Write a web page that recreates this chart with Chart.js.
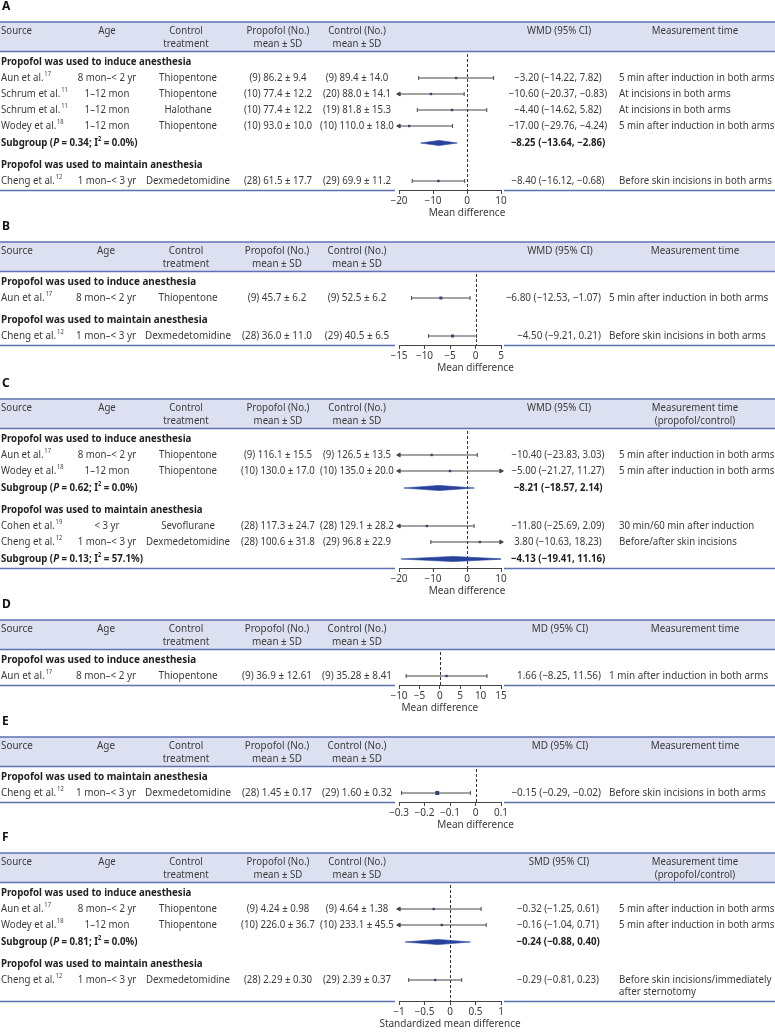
<!DOCTYPE html>
<html>
<head>
<meta charset="utf-8">
<script src="https://cdn.jsdelivr.net/npm/chart.js@4.4.1/dist/chart.umd.min.js"></script>
<style>
  html, body { margin: 0; padding: 0; background: #fff; }
  #page { position: relative; width: 775px; height: 1032px; overflow: hidden; }
  #page canvas { position: absolute; left: 0; }
</style>
</head>
<body>
<div id="page"></div>
<script>
const groupNames = ['Propofol was used to induce anesthesia', 'Propofol was used to maintain anesthesia'];

// ---- A
const aStudy = ['Aun et al.', 'Schrum et al.', 'Schrum et al.', 'Wodey et al.', 'Cheng et al.'];
const aRef = ['17', '11', '11', '18', '12'];
const aAge = ['8 mon–< 2 yr', '1–12 mon', '1–12 mon', '1–12 mon', '1 mon–< 3 yr'];
const aTx = ['Thiopentone', 'Thiopentone', 'Halothane', 'Thiopentone', 'Dexmedetomidine'];
const aProp = ['(9) 86.2 ± 9.4', '(10) 77.4 ± 12.2', '(10) 77.4 ± 12.2', '(10) 93.0 ± 10.0', '(28) 61.5 ± 17.7'];
const aCtrl = ['(9) 89.4 ± 14.0', '(20) 88.0 ± 14.1', '(19) 81.8 ± 15.3', '(10) 110.0 ± 18.0', '(29) 69.9 ± 11.2'];
const aMean = [-3.20, -10.60, -4.40, -17.00, -8.40];
const aLow = [-14.22, -20.37, -14.62, -29.76, -16.12];
const aHigh = [7.82, -0.83, 5.82, -4.24, -0.68];
const aTime = ['5 min after induction in both arms', 'At incisions in both arms', 'At incisions in both arms',
  '5 min after induction in both arms', 'Before skin incisions in both arms'];
const aGroup = [0, 0, 0, 0, 1];
const aSubP = [0.34, null], aSubI2 = [0.0, null];
const aSubMean = [-8.25, null], aSubLow = [-13.64, null], aSubHigh = [-2.86, null];
const aTicks = [-20, -10, 0, 10];

// ---- B
const bStudy = ['Aun et al.', 'Cheng et al.'];
const bRef = ['17', '12'];
const bAge = ['8 mon–< 2 yr', '1 mon–< 3 yr'];
const bTx = ['Thiopentone', 'Dexmedetomidine'];
const bProp = ['(9) 45.7 ± 6.2', '(28) 36.0 ± 11.0'];
const bCtrl = ['(9) 52.5 ± 6.2', '(29) 40.5 ± 6.5'];
const bMean = [-6.80, -4.50];
const bLow = [-12.53, -9.21];
const bHigh = [-1.07, 0.21];
const bTime = ['5 min after induction in both arms', 'Before skin incisions in both arms'];
const bGroup = [0, 1];
const bTicks = [-15, -10, -5, 0, 5];

// ---- C
const cStudy = ['Aun et al.', 'Wodey et al.', 'Cohen et al.', 'Cheng et al.'];
const cRef = ['17', '18', '19', '12'];
const cAge = ['8 mon–< 2 yr', '1–12 mon', '< 3 yr', '1 mon–< 3 yr'];
const cTx = ['Thiopentone', 'Thiopentone', 'Sevoflurane', 'Dexmedetomidine'];
const cProp = ['(9) 116.1 ± 15.5', '(10) 130.0 ± 17.0', '(28) 117.3 ± 24.7', '(28) 100.6 ± 31.8'];
const cCtrl = ['(9) 126.5 ± 13.5', '(10) 135.0 ± 20.0', '(28) 129.1 ± 28.2', '(29) 96.8 ± 22.9'];
const cMean = [-10.40, -5.00, -11.80, 3.80];
const cLow = [-23.83, -21.27, -25.69, -10.63];
const cHigh = [3.03, 11.27, 2.09, 18.23];
const cTime = ['5 min after induction in both arms', '5 min after induction in both arms',
  '30 min/60 min after induction', 'Before/after skin incisions'];
const cGroup = [0, 0, 1, 1];
const cSubP = [0.62, 0.13], cSubI2 = [0.0, 57.1];
const cSubMean = [-8.21, -4.13], cSubLow = [-18.57, -19.41], cSubHigh = [2.14, 11.16];
const cTicks = [-20, -10, 0, 10];

// ---- D
const dStudy = ['Aun et al.'];
const dRef = ['17'];
const dAge = ['8 mon–< 2 yr'];
const dTx = ['Thiopentone'];
const dProp = ['(9) 36.9 ± 12.61'];
const dCtrl = ['(9) 35.28 ± 8.41'];
const dMean = [1.66];
const dLow = [-8.25];
const dHigh = [11.56];
const dTime = ['1 min after induction in both arms'];
const dGroup = [0];
const dTicks = [-10, -5, 0, 5, 10, 15];

// ---- E
const eStudy = ['Cheng et al.'];
const eRef = ['12'];
const eAge = ['1 mon–< 3 yr'];
const eTx = ['Dexmedetomidine'];
const eProp = ['(28) 1.45 ± 0.17'];
const eCtrl = ['(29) 1.60 ± 0.32'];
const eMean = [-0.15];
const eLow = [-0.29];
const eHigh = [-0.02];
const eTime = ['Before skin incisions in both arms'];
const eGroup = [1];
const eTicks = [-0.3, -0.2, -0.1, 0, 0.1];

// ---- F
const fStudy = ['Aun et al.', 'Wodey et al.', 'Cheng et al.'];
const fRef = ['17', '18', '12'];
const fAge = ['8 mon–< 2 yr', '1–12 mon', '1 mon–< 3 yr'];
const fTx = ['Thiopentone', 'Thiopentone', 'Dexmedetomidine'];
const fProp = ['(9) 4.24 ± 0.98', '(10) 226.0 ± 36.7', '(28) 2.29 ± 0.30'];
const fCtrl = ['(9) 4.64 ± 1.38', '(10) 233.1 ± 45.5', '(29) 2.39 ± 0.37'];
const fMean = [-0.32, -0.16, -0.29];
const fLow = [-1.25, -1.04, -0.81];
const fHigh = [0.61, 0.71, 0.23];
const fTime = ['5 min after induction in both arms', '5 min after induction in both arms',
  'Before skin incisions/immediately\nafter sternotomy'];
const fGroup = [0, 0, 1];
const fSubP = [0.81, null], fSubI2 = [0.0, null];
const fSubMean = [-0.24, null], fSubLow = [-0.88, null], fSubHigh = [0.40, null];
const fTicks = [-1, -0.5, 0, 0.5, 1];

// ---- layout / style
const W = 775;
const AX_L = 399, AX_R = 501;
const INK = '#3a3a3a';
const CI_INK = '#474747';
const BLUE = '#27429a';
const BAND = '#dde0f1';
const RULE = '#5d72b2';

const wideCols = { age: 107, ageAlign: 'center', ageHead: 107, tx: 188, prop: 278, ctrl: 357,
  ci: 558, ciAlign: 'center', ciHead: 559, time: 619, timeHead: 695 };
const narrowCols = { age: 76, ageAlign: 'left', ageHead: 106, tx: 188, prop: 277, ctrl: 357,
  ci: 601, ciAlign: 'right', ciHead: 560, time: 609, timeHead: 695 };

const panels = [
  { key: 'A', top: 0, height: 220, narrow: false, effect: 'WMD (95% CI)', time2: '', axis: 'Mean difference', sq: 1.7,
    d: { study: aStudy, ref: aRef, age: aAge, tx: aTx, prop: aProp, ctrl: aCtrl, mean: aMean, low: aLow, high: aHigh,
      time: aTime, group: aGroup, subP: aSubP, subI2: aSubI2, subMean: aSubMean, subLow: aSubLow, subHigh: aSubHigh, ticks: aTicks } },
  { key: 'B', top: 220, height: 157, narrow: true, effect: 'WMD (95% CI)', time2: '', axis: 'Mean difference', sq: 2.1,
    d: { study: bStudy, ref: bRef, age: bAge, tx: bTx, prop: bProp, ctrl: bCtrl, mean: bMean, low: bLow, high: bHigh,
      time: bTime, group: bGroup, ticks: bTicks } },
  { key: 'C', top: 377, height: 221, narrow: false, effect: 'WMD (95% CI)', time2: '(propofol/control)', axis: 'Mean difference', sq: 1.7,
    d: { study: cStudy, ref: cRef, age: cAge, tx: cTx, prop: cProp, ctrl: cCtrl, mean: cMean, low: cLow, high: cHigh,
      time: cTime, group: cGroup, subP: cSubP, subI2: cSubI2, subMean: cSubMean, subLow: cSubLow, subHigh: cSubHigh, ticks: cTicks } },
  { key: 'D', top: 598, height: 117, narrow: true, effect: 'MD (95% CI)', time2: '', axis: 'Mean difference', sq: 1.7,
    d: { study: dStudy, ref: dRef, age: dAge, tx: dTx, prop: dProp, ctrl: dCtrl, mean: dMean, low: dLow, high: dHigh,
      time: dTime, group: dGroup, ticks: dTicks } },
  { key: 'E', top: 715, height: 116, narrow: true, effect: 'MD (95% CI)', time2: '', axis: 'Mean difference', sq: 2.8,
    d: { study: eStudy, ref: eRef, age: eAge, tx: eTx, prop: eProp, ctrl: eCtrl, mean: eMean, low: eLow, high: eHigh,
      time: eTime, group: eGroup, ticks: eTicks } },
  { key: 'F', top: 831, height: 201, narrow: false, effect: 'SMD (95% CI)', time2: '(propofol/control)', axis: 'Standardized mean difference', sq: 1.7,
    d: { study: fStudy, ref: fRef, age: fAge, tx: fTx, prop: fProp, ctrl: fCtrl, mean: fMean, low: fLow, high: fHigh,
      time: fTime, group: fGroup, subP: fSubP, subI2: fSubI2, subMean: fSubMean, subLow: fSubLow, subHigh: fSubHigh, ticks: fTicks } }
];

const fmt = v => (v < 0 ? '−' : '') + Math.abs(v).toFixed(2);
const ciText = (m, lo, hi) => fmt(m) + ' (' + fmt(lo) + ', ' + fmt(hi) + ')';

// text helpers (sx = horizontal squeeze of the glyphs)
function put(ctx, p, s, x, y, align, bold, italic, size) {
  const fs = size || p.fs;
  ctx.font = (italic ? 'italic ' : '') + (bold ? '700 ' : '400 ') + fs + 'px "Noto Sans"';
  const w = ctx.measureText(s).width * p.sx;
  const x0 = align === 'center' ? x - w / 2 : align === 'right' ? x - w : x;
  ctx.save();
  ctx.translate(x0, y);
  ctx.scale(p.sx, 1);
  ctx.textAlign = 'left';
  ctx.textBaseline = 'middle';
  ctx.fillText(s, 0, 0);
  ctx.restore();
  return w;
}

function buildRows(d) {
  const rows = [];
  let y = 62, prev = null;
  [0, 1].forEach(g => {
    const idx = d.group.map((v, i) => v === g ? i : -1).filter(i => i >= 0);
    if (!idx.length) return;
    if (prev) y += 22;
    rows.push({ type: 'group', g, y });
    idx.forEach(i => { y += 16; rows.push({ type: 'study', i, y }); });
    if (d.subMean && d.subMean[g] != null) { y += 17; rows.push({ type: 'sub', g, y }); }
    prev = true;
  });
  const last = rows[rows.length - 1];
  const twoLine = last.type === 'study' && d.time[last.i].indexOf('\n') >= 0;
  return { rows, ruleY: last.y + 9 + (twoLine ? 12 : 0) };
}

function makePanel(p) {
  const d = p.d;
  const cols = p.narrow ? narrowCols : wideCols;
  p.fs = p.narrow ? 11 : 10.5;
  p.sx = p.narrow ? 0.9 : 0.92;
  const { rows, ruleY } = buildRows(d);
  const chartTop = 53;
  const xmin = d.ticks[0], xmax = d.ticks[d.ticks.length - 1];
  const clampX = v => Math.max(xmin, Math.min(xmax, v));

  const canvas = document.createElement('canvas');
  canvas.width = W;
  canvas.height = p.height;
  canvas.style.top = p.top + 'px';
  document.getElementById('page').appendChild(canvas);

  const datasets = [];
  const studyRows = rows.filter(r => r.type === 'study');
  studyRows.forEach(r => {
    const i = r.i;
    const loOut = d.low[i] < xmin, hiOut = d.high[i] > xmax;
    datasets.push({
      data: [{ x: clampX(d.low[i]), y: r.y }, { x: clampX(d.high[i]), y: r.y }],
      showLine: true, borderColor: CI_INK, borderWidth: 1, clip: false,
      pointStyle: [loOut ? 'triangle' : 'line', hiOut ? 'triangle' : 'line'],
      rotation: [loOut ? -90 : 90, 90],
      pointRadius: [loOut ? 2.3 : 2, hiOut ? 2.3 : 2],
      pointBackgroundColor: CI_INK, pointBorderColor: CI_INK, pointBorderWidth: 1
    });
  });
  rows.filter(r => r.type === 'sub').forEach(r => {
    const g = r.g;
    datasets.push({
      data: [
        { x: d.subLow[g], y: r.y }, { x: d.subMean[g], y: r.y - 2.6 },
        { x: d.subHigh[g], y: r.y }, { x: d.subMean[g], y: r.y + 2.6 }, { x: d.subLow[g], y: r.y }
      ],
      showLine: true, fill: 'shape', backgroundColor: BLUE, borderColor: BLUE, borderWidth: 0.6,
      pointRadius: 0, tension: 0
    });
  });
  datasets.push({
    data: studyRows.map(r => ({ x: d.mean[r.i], y: r.y })),
    showLine: false, pointStyle: 'rect', pointRadius: p.sq, clip: false,
    backgroundColor: BLUE, borderColor: BLUE, borderWidth: 0
  });

  const tablePlugin = {
    id: 'table' + p.key,
    beforeDraw(chart) {
      const ctx = chart.ctx;
      ctx.save();
      // panel letter
      ctx.fillStyle = '#111';
      ctx.font = '700 12px "Noto Sans"';
      ctx.textBaseline = 'middle';
      ctx.fillText(p.key, 2, 7);
      // header band
      ctx.fillStyle = BAND;
      ctx.fillRect(0, 22, W, 29);
      ctx.strokeStyle = RULE;
      ctx.lineWidth = 1.6;
      ctx.beginPath(); ctx.moveTo(0, 22); ctx.lineTo(W, 22); ctx.stroke();
      ctx.lineWidth = 1.3;
      ctx.beginPath(); ctx.moveTo(0, 51.5); ctx.lineTo(W, 51.5); ctx.stroke();
      // bottom rule, broken under the axis
      ctx.beginPath();
      ctx.moveTo(0, ruleY + 0.5); ctx.lineTo(AX_L - 4, ruleY + 0.5);
      ctx.moveTo(AX_R + 3, ruleY + 0.5); ctx.lineTo(W, ruleY + 0.5);
      ctx.stroke();

      ctx.fillStyle = INK;
      const h1 = 31, h2 = 44;
      put(ctx, p, 'Source', 1, h1, 'left');
      put(ctx, p, 'Age', cols.ageHead, h1, 'center');
      put(ctx, p, 'Control', cols.tx - 2, h1, 'center');
      put(ctx, p, 'treatment', cols.tx - 2, h2, 'center');
      put(ctx, p, 'Propofol (No.)', cols.prop, h1, 'center');
      put(ctx, p, 'mean ± SD', cols.prop, h2, 'center');
      put(ctx, p, 'Control (No.)', cols.ctrl, h1, 'center');
      put(ctx, p, 'mean ± SD', cols.ctrl, h2, 'center');
      put(ctx, p, p.effect, cols.ciHead, h1, 'center');
      put(ctx, p, 'Measurement time', cols.timeHead, h1, 'center');
      if (p.time2) put(ctx, p, p.time2, cols.timeHead, h2, 'center');

      rows.forEach(r => {
        ctx.fillStyle = INK;
        if (r.type === 'group') {
          ctx.fillStyle = '#222';
          put(ctx, p, groupNames[r.g], 1, r.y, 'left', true);
        } else if (r.type === 'study') {
          const i = r.i;
          const w = put(ctx, p, d.study[i], 1, r.y, 'left');
          put(ctx, p, d.ref[i], 1 + w + 0.8, r.y - 3.5, 'left', false, false, p.fs * 0.6);
          put(ctx, p, d.age[i], cols.age, r.y, cols.ageAlign);
          put(ctx, p, d.tx[i], cols.tx, r.y, 'center');
          put(ctx, p, d.prop[i], cols.prop, r.y, 'center');
          put(ctx, p, d.ctrl[i], cols.ctrl, r.y, 'center');
          put(ctx, p, ciText(d.mean[i], d.low[i], d.high[i]), cols.ci, r.y, cols.ciAlign);
          d.time[i].split('\n').forEach((line, k) => put(ctx, p, line, cols.time, r.y + k * 12, 'left'));
        } else {
          const g = r.g;
          ctx.fillStyle = '#222';
          const segs = [
            ['Subgroup (', false], ['P', true], [' = ' + d.subP[g].toFixed(2) + '; I', false],
            ['2', false, true], [' = ' + d.subI2[g].toFixed(1) + '%)', false]
          ];
          let cx = 1;
          segs.forEach(([t, it, sup]) => {
            cx += put(ctx, p, t, cx, sup ? r.y - 3.5 : r.y, 'left', true, it, sup ? p.fs * 0.6 : undefined);
          });
          put(ctx, p, ciText(d.subMean[g], d.subLow[g], d.subHigh[g]), cols.ci, r.y, cols.ciAlign, true);
        }
      });
      ctx.restore();
    },
    beforeDatasetsDraw(chart) {
      const ctx = chart.ctx;
      const x0 = chart.scales.x.getPixelForValue(0);
      ctx.save();
      ctx.strokeStyle = '#333';
      ctx.lineWidth = 1;
      ctx.setLineDash([3, 2]);
      ctx.beginPath();
      ctx.moveTo(Math.round(x0) + 0.5, chart.chartArea.top + 1);
      ctx.lineTo(Math.round(x0) + 0.5, chart.chartArea.bottom);
      ctx.stroke();
      ctx.restore();
    },
    afterDraw(chart) {
      const ctx = chart.ctx;
      ctx.save();
      ctx.fillStyle = INK;
      ctx.font = '400 10px "Noto Sans"';
      ctx.textAlign = 'center';
      ctx.textBaseline = 'middle';
      ctx.fillText(p.axis, chart.scales.x.getPixelForValue(0), ruleY + 23);
      ctx.restore();
    }
  };

  new Chart(canvas, {
    type: 'scatter',
    data: { datasets },
    options: {
      responsive: false,
      animation: false,
      devicePixelRatio: 1,
      events: [],
      layout: { padding: { left: AX_L, right: W - AX_R, top: chartTop, bottom: 0 } },
      plugins: { legend: { display: false }, tooltip: { enabled: false } },
      scales: {
        x: {
          type: 'linear', min: xmin, max: xmax,
          afterBuildTicks: s => { s.ticks = d.ticks.map(v => ({ value: v })); },
          afterFit: s => { s.height = p.height - ruleY; },
          grid: { drawOnChartArea: false, drawTicks: true, tickLength: 4, color: '#444', lineWidth: 1 },
          border: { display: true, color: '#444', width: 1 },
          ticks: {
            font: { family: 'Noto Sans', size: 10 }, color: INK, padding: 1, maxRotation: 0, autoSkip: false,
            callback: v => String(Math.round(v * 100) / 100).replace('-', '−')
          }
        },
        y: { type: 'linear', display: false, reverse: true, min: chartTop, max: ruleY }
      }
    },
    plugins: [tablePlugin]
  });
}

panels.forEach(makePanel);
</script>
</body>
</html>
